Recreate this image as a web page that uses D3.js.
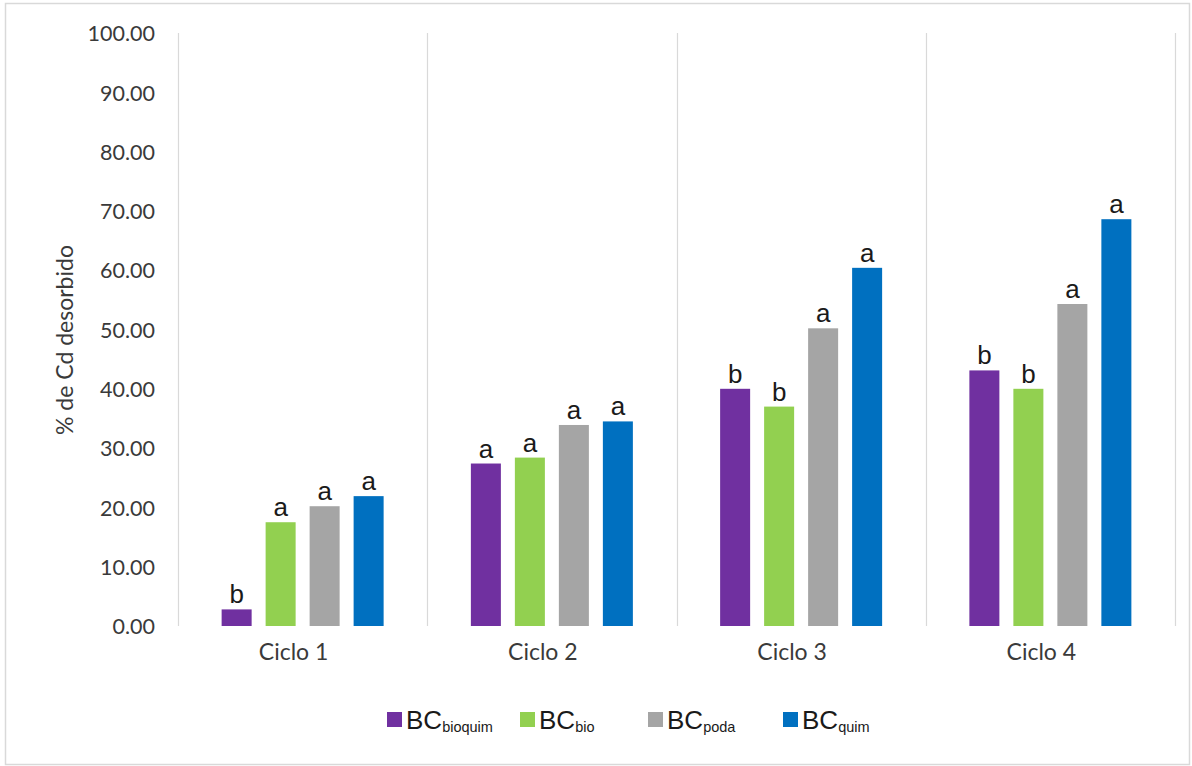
<!DOCTYPE html>
<html>
<head>
<meta charset="utf-8">
<script src="https://cdn.jsdelivr.net/npm/d3@7"></script>
<style>
  html, body { margin: 0; padding: 0; background: #fff; }
  svg { display: block; }
</style>
</head>
<body>
<svg id="chart" width="1192" height="766"></svg>
<script>
// Cd desorption per regeneration cycle, four biochar types
const cycles = ["Ciclo 1", "Ciclo 2", "Ciclo 3", "Ciclo 4"];
const seriesKeys = ["bioquim", "bio", "poda", "quim"];
const seriesColors = ["#7030A0", "#92D050", "#A5A5A5", "#0070C0"];

const bcBioquim = [2.8, 27.4, 40.0, 43.1];
const bcBio     = [17.5, 28.4, 37.0, 40.0];
const bcPoda    = [20.2, 33.9, 50.2, 54.3];
const bcQuim    = [21.9, 34.5, 60.4, 68.6];

// significance letters
const lettersBioquim = ["b", "a", "b", "b"];
const lettersBio     = ["a", "a", "b", "b"];
const lettersPoda    = ["a", "a", "a", "a"];
const lettersQuim    = ["a", "a", "a", "a"];

const yTicks = [0, 10, 20, 30, 40, 50, 60, 70, 80, 90, 100];
const yTitle = "% de Cd desorbido";

const values = [bcBioquim, bcBio, bcPoda, bcQuim];
const letters = [lettersBioquim, lettersBio, lettersPoda, lettersQuim];

const svg = d3.select("#chart");
const axisFont = "Lato, 'Open Sans', sans-serif";
const markFont = "'Liberation Sans', Arial, sans-serif";

// outer frame
svg.append("rect")
  .attr("x", 5.5).attr("y", 3.5)
  .attr("width", 1184).attr("height", 761)
  .attr("fill", "#fff").attr("stroke", "#d9d9d9").attr("stroke-width", 1.5);

const plot = { left: 178, right: 1175, top: 33, bottom: 626 };

const x = d3.scaleBand().domain(cycles).range([plot.left, plot.right]).padding(0);
const groupWidth = 162;
const xs = d3.scaleBand().domain(seriesKeys)
  .range([-groupWidth / 2, groupWidth / 2]).paddingInner(0.318).paddingOuter(0);
const y = d3.scaleLinear().domain([0, 100]).range([plot.bottom, plot.top]);

// vertical separators between cycles
const edges = cycles.map(c => x(c)).concat([x(cycles[cycles.length - 1]) + x.bandwidth()]);
svg.append("g").selectAll("line").data(edges).join("line")
  .attr("x1", d => Math.round(d) + 0.5).attr("x2", d => Math.round(d) + 0.5)
  .attr("y1", plot.top).attr("y2", plot.bottom)
  .attr("stroke", "#d9d9d9").attr("stroke-width", 1.2);

// y axis labels
const yAxis = d3.axisLeft(y).tickValues(yTicks).tickFormat(d3.format(".2f")).tickSize(0).tickPadding(0);
const yg = svg.append("g").attr("transform", "translate(155,0)").call(yAxis);
yg.select(".domain").remove();
yg.selectAll("text")
  .attr("font-family", axisFont).attr("font-size", 21.5).attr("fill", "#3a3a3a")
  .attr("dy", "0.36em");

// y title
svg.append("text")
  .attr("transform", "translate(73,340) rotate(-90)")
  .attr("text-anchor", "middle")
  .attr("font-family", axisFont).attr("font-size", 23).attr("fill", "#3a3a3a")
  .text(yTitle);

// bars and letters
const groups = svg.append("g").selectAll("g").data(cycles).join("g")
  .attr("transform", c => `translate(${x(c) + x.bandwidth() / 2},0)`);

groups.each(function(c, ci) {
  const g = d3.select(this);
  const rows = seriesKeys.map((k, si) => ({ k, si, v: values[si][ci], l: letters[si][ci] }));
  g.selectAll("rect").data(rows).join("rect")
    .attr("x", d => xs(d.k)).attr("width", xs.bandwidth())
    .attr("y", d => y(d.v)).attr("height", d => y(0) - y(d.v))
    .attr("fill", d => seriesColors[d.si]);
  g.selectAll("text.letter").data(rows).join("text")
    .attr("class", "letter")
    .attr("x", d => xs(d.k) + xs.bandwidth() / 2)
    .attr("y", d => y(d.v) - 6)
    .attr("text-anchor", "middle")
    .attr("font-family", markFont).attr("font-size", 26).attr("fill", "#1a1a1a")
    .text(d => d.l);
});

// category labels
svg.append("g").selectAll("text").data(cycles).join("text")
  .attr("x", c => x(c) + x.bandwidth() / 2 - 9)
  .attr("y", 660)
  .attr("text-anchor", "middle")
  .attr("font-family", axisFont).attr("font-size", 23).attr("fill", "#3a3a3a")
  .text(c => c);

// legend
const legendX = [387, 520, 648, 783];
const lg = svg.append("g").selectAll("g").data(seriesKeys).join("g")
  .attr("transform", (d, i) => `translate(${legendX[i]},712)`);
lg.append("rect").attr("width", 15).attr("height", 15)
  .attr("fill", (d, i) => seriesColors[i]);
const lt = lg.append("text")
  .attr("x", 19).attr("y", 17)
  .attr("font-family", markFont).attr("fill", "#1a1a1a");
lt.append("tspan").attr("font-size", 26).text("BC");
lt.append("tspan").attr("font-size", 14.5).attr("dy", 3).text(d => d);
</script>
</body>
</html>
